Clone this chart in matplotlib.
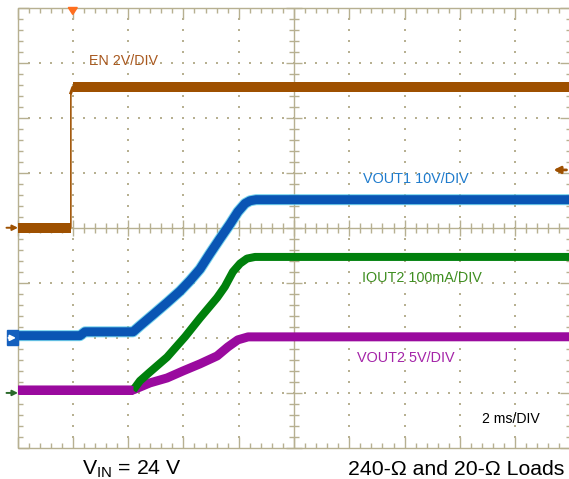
import matplotlib
matplotlib.use("Agg")
import matplotlib.pyplot as plt
from matplotlib.patches import Rectangle, Polygon

plt.rcParams['font.family'] = ['Liberation Sans', 'DejaVu Sans']
plt.rcParams['mathtext.fontset'] = 'custom'
plt.rcParams['mathtext.rm'] = 'Liberation Sans'
plt.rcParams['mathtext.it'] = 'Liberation Sans:italic'

# ---------------- data (time in ms, 2 ms/DIV) ----------------
en_t = [0.0, 1.93, 1.93, 2.00, 20.0]           # EN, volts (2 V/DIV)
en_v = [0.0, 0.0, 4.9, 5.1, 5.1]

vout1_t = [0.0, 2.26, 2.44, 4.18, 4.43, 4.90, 5.41, 5.88, 6.24, 6.60, 6.96,
           7.32, 7.69, 7.97, 8.23, 8.41, 8.63, 20.0]
vout1_v = [0.4, 0.4, 1.1, 1.1, 2.2, 4.2, 6.4, 8.5, 10.4, 12.5, 15.3,
           18.0, 20.7, 22.9, 24.4, 24.9, 25.1, 25.1]                          # V (10 V/DIV)

iout2_t = [0.0, 4.18, 4.43, 4.79, 5.41, 6.06, 6.60, 7.22, 7.50, 7.79, 8.05, 8.30, 8.59, 20.0]
iout2_v = [5, 5, 22, 38, 65, 102, 136, 173, 193, 220, 235, 244, 247, 247]        # mA (100 mA/DIV)

vout2_t = [0.0, 4.18, 4.79, 5.41, 5.99, 6.60, 7.22, 7.61, 7.97, 8.34, 20.0]
vout2_v = [0.27, 0.27, 0.91, 1.36, 2.0, 2.64, 3.36, 4.18, 4.82, 5.09, 5.1]       # V (5 V/DIV)

# channel scale (units per division) and ground position (division from bottom)
scales = {'EN': 2.0, 'VOUT1': 10.0, 'IOUT2': 100.0, 'VOUT2': 5.0}
grounds = {'EN': 4.0, 'VOUT1': 2.0, 'IOUT2': 1.0, 'VOUT2': 1.0}
trigger_level_v = 2.1   # EN trigger level
trigger_time = 2.0

labels = {
    'EN': 'EN 2V/DIV',
    'VOUT1': 'VOUT1 10V/DIV',
    'IOUT2': 'IOUT2 100mA/DIV',
    'VOUT2': 'VOUT2 5V/DIV',
}
timebase = '2 ms/DIV'
caption_left = r'V$_{\mathrm{IN}}$ = 24 V'
caption_right = '240-Ω and 20-Ω Loads'

# ---------------- style ----------------
BROWN = '#9E5000'
BROWN_TXT = '#A8581E'
BLUE = '#0A55B4'
CYAN = '#52C8E8'
BLUE_TXT = '#1E7BCC'
GREEN = '#00800C'
GREEN_TXT = '#3E8E20'
PURPLE = '#9A0A9E'
PURPLE_TXT = '#A424A8'
GRID = '#B7B091'
ORANGE = '#FF6E1E'

W, H = 569, 479
fig = plt.figure(figsize=(W / 100, H / 100), dpi=100)
x0, x1, y0, y1 = 17.5, 570.5, 7.5, 448.0
ax = fig.add_axes([x0 / W, 1 - y1 / H, (x1 - x0) / W, (y1 - y0) / H])
ax.set_xlim(0, 20)
ax.set_ylim(0, 8)
ax.axis('off')

px_x = 20 / (x1 - x0)   # ms per pixel
px_y = 8 / (y1 - y0)    # div per pixel
lwp = 0.72              # points per pixel

def ydiv(ch, vals):
    return [grounds[ch] + v / scales[ch] for v in vals]

# ---------------- graticule ----------------
gkw = dict(color=GRID, lw=1.4 * lwp, solid_capstyle='butt', zorder=1, clip_on=False)
ax.plot([0, 20, 20, 0, 0], [0, 0, 8, 8, 0], **gkw)
ax.plot([0, 20], [4, 4], **gkw)
ax.plot([10, 10], [0, 8], **gkw)
for i in range(0, 51):
    t = i * 0.4
    major = (i % 5 == 0)
    L = (11 if major else 5)
    c = (8 if major else 5)
    ax.plot([t, t], [0, L * px_y], **gkw)
    ax.plot([t, t], [8, 8 - L * px_y], **gkw)
    ax.plot([t, t], [4 - c * px_y, 4 + c * px_y], **gkw)
for i in range(0, 41):
    d = i * 0.2
    major = (i % 5 == 0)
    L = (11 if major else 5)
    c = (8 if major else 5)
    ax.plot([0, L * px_x], [d, d], **gkw)
    ax.plot([20, 20 - L * px_x], [d, d], **gkw)
    ax.plot([10 - c * px_x, 10 + c * px_x], [d, d], **gkw)
dx, dy = [], []
for k in range(1, 10):
    if k == 5:
        continue
    for i in range(1, 40):
        dx.append(k * 2); dy.append(i * 0.2)
for k in range(1, 8):
    if k == 4:
        continue
    for i in range(1, 50):
        dx.append(i * 0.4); dy.append(k)
ax.scatter(dx, dy, s=2.0, color=GRID, marker='s', linewidths=0, zorder=1)

# ---------------- traces ----------------
en_y = ydiv('EN', en_v)
ax.plot(en_t, en_y, color=BROWN, lw=1.6 * lwp, zorder=3)
ax.plot(en_t[:2], en_y[:2], color=BROWN, lw=10 * lwp, solid_capstyle='butt', zorder=3)
ax.plot(en_t[2:], en_y[2:], color=BROWN, lw=3 * lwp, solid_joinstyle='round', zorder=3)
ax.plot(en_t[3:], en_y[3:], color=BROWN, lw=10 * lwp, solid_capstyle='butt', zorder=3)

def trace(t, y, col, w, edge=None):
    if edge:
        ax.plot(t, y, color=edge, lw=(w + 2) * lwp, solid_capstyle='butt',
                solid_joinstyle='round', zorder=4, alpha=0.8)
    ax.plot(t, y, color=col, lw=w * lwp, solid_capstyle='butt',
            solid_joinstyle='round', zorder=4)

trace(vout2_t, ydiv('VOUT2', vout2_v), PURPLE, 9)
trace(iout2_t[1:], ydiv('IOUT2', iout2_v)[1:], GREEN, 8)
trace(vout2_t[:2], ydiv('VOUT2', vout2_v)[:2], PURPLE, 9)
trace(vout1_t, ydiv('VOUT1', vout1_v), BLUE, 9, edge=CYAN)

# ---------------- markers ----------------
def arrow(xh, xt, y, col, lw=1.4, ms=8, z=6):
    ax.annotate('', xy=(xh, y), xytext=(xt, y),
                arrowprops=dict(arrowstyle='-|>', color=col, lw=lw, mutation_scale=ms,
                                shrinkA=0, shrinkB=0),
                annotation_clip=False, zorder=z)

ax.add_patch(Polygon([[trigger_time - 4.5 * px_x, 8], [trigger_time + 4.5 * px_x, 8],
                      [trigger_time, 8 - 7 * px_y]], closed=True, color=ORANGE,
                     clip_on=False, zorder=6))
ty = grounds['EN'] + trigger_level_v / scales['EN']
arrow(20 - 17 * px_x, 20 - 4 * px_x, ty, BROWN, lw=2.0, ms=10)
arrow(0.5 * px_x, -11 * px_x, grounds['EN'], BROWN)
ax.add_patch(Rectangle((-10.5 * px_x, grounds['VOUT1'] - 7.5 * px_y), 10.5 * px_x, 15 * px_y,
                       color='#1560BE', clip_on=False, zorder=6))
arrow(-1.5 * px_x, -9 * px_x, grounds['VOUT1'], 'white', z=7)
arrow(0.5 * px_x, -11 * px_x, grounds['VOUT2'], '#2A6A2A')

# ---------------- text ----------------
def ftext(x, y, s, **kw):
    fig.text(x / W, 1 - y / H, s, **kw)

ftext(89, 61, labels['EN'], color=BROWN_TXT, fontsize=10.3, ha='left', va='center')
ftext(363, 179, labels['VOUT1'], color=BLUE_TXT, fontsize=10.4, ha='left', va='center')
ftext(362, 278, labels['IOUT2'], color=GREEN_TXT, fontsize=10.4, ha='left', va='center')
ftext(357, 358, labels['VOUT2'], color=PURPLE_TXT, fontsize=10.4, ha='left', va='center')
ftext(482, 419, timebase, color='black', fontsize=10.2, ha='left', va='center')
ftext(82, 475, caption_left, color='black', fontsize=15.3, ha='left', va='baseline')
ftext(348, 475, caption_right, color='black', fontsize=15.3, ha='left', va='baseline')

fig.savefig('out.png', dpi=100, facecolor='white')
